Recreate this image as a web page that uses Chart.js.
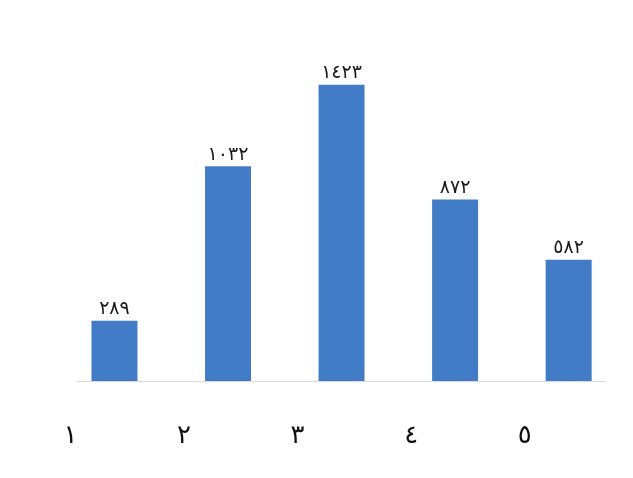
<!DOCTYPE html>
<html>
<head>
<meta charset="utf-8">
<script src="https://cdn.jsdelivr.net/npm/chart.js@4"></script>
<style>
  html, body { margin: 0; padding: 0; background: #fff; }
  #wrap { width: 633px; height: 478px; }
</style>
</head>
<body>
<div id="wrap"><canvas id="chart"></canvas></div>
<script>
const categories = [1, 2, 3, 4, 5];
const tickLabels = ['١', '٢', '٣', '٤', '٥'];
const values = [289, 1032, 1423, 872, 582];

const arabicDigits = '٠١٢٣٤٥٦٧٨٩';
const toArabic = n => String(n).replace(/\d/g, d => arabicDigits[d]);

// value labels above each bar
const barLabels = {
  id: 'barLabels',
  afterDatasetsDraw(chart) {
    const ctx = chart.ctx;
    const meta = chart.getDatasetMeta(0);
    ctx.save();
    ctx.font = '19px "DejaVu Sans"';
    ctx.fillStyle = '#1a1a1a';
    ctx.textAlign = 'center';
    ctx.textBaseline = 'bottom';
    meta.data.forEach((bar, i) => {
      ctx.fillText(toArabic(values[i]), bar.x, bar.y - 2);
    });
    ctx.restore();
  }
};

const ctx = document.getElementById('chart').getContext('2d');
new Chart(ctx, {
  type: 'bar',
  data: {
    datasets: [{
      data: categories.map((c, i) => ({ x: c, y: values[i] })),
      backgroundColor: '#427cc6',
      categoryPercentage: 1,
      barPercentage: 0.405
    }]
  },
  options: {
    responsive: true,
    maintainAspectRatio: false,
    animation: false,
    layout: { padding: { top: 48, left: 77, right: 28, bottom: 27 } },
    plugins: {
      legend: { display: false },
      tooltip: { enabled: false }
    },
    scales: {
      x: {
        type: 'linear',
        offset: false,
        min: 0.67,
        max: 5.32,
        afterBuildTicks: scale => {
          scale.ticks = categories.map(c => ({ value: c }));
        },
        afterFit: scale => { scale.height = 70; },
        grid: { display: false, drawTicks: false, offset: false },
        border: { display: true, color: '#d9d9d9', width: 1 },
        ticks: {
          padding: 40,
          labelOffset: -44,
          autoSkip: false,
          maxRotation: 0,
          color: '#111',
          font: { family: 'DejaVu Sans', size: 26 },
          callback: value => tickLabels[categories.indexOf(value)]
        }
      },
      y: {
        display: false,
        min: 0,
        max: 1600
      }
    }
  },
  plugins: [barLabels]
});
</script>
</body>
</html>
